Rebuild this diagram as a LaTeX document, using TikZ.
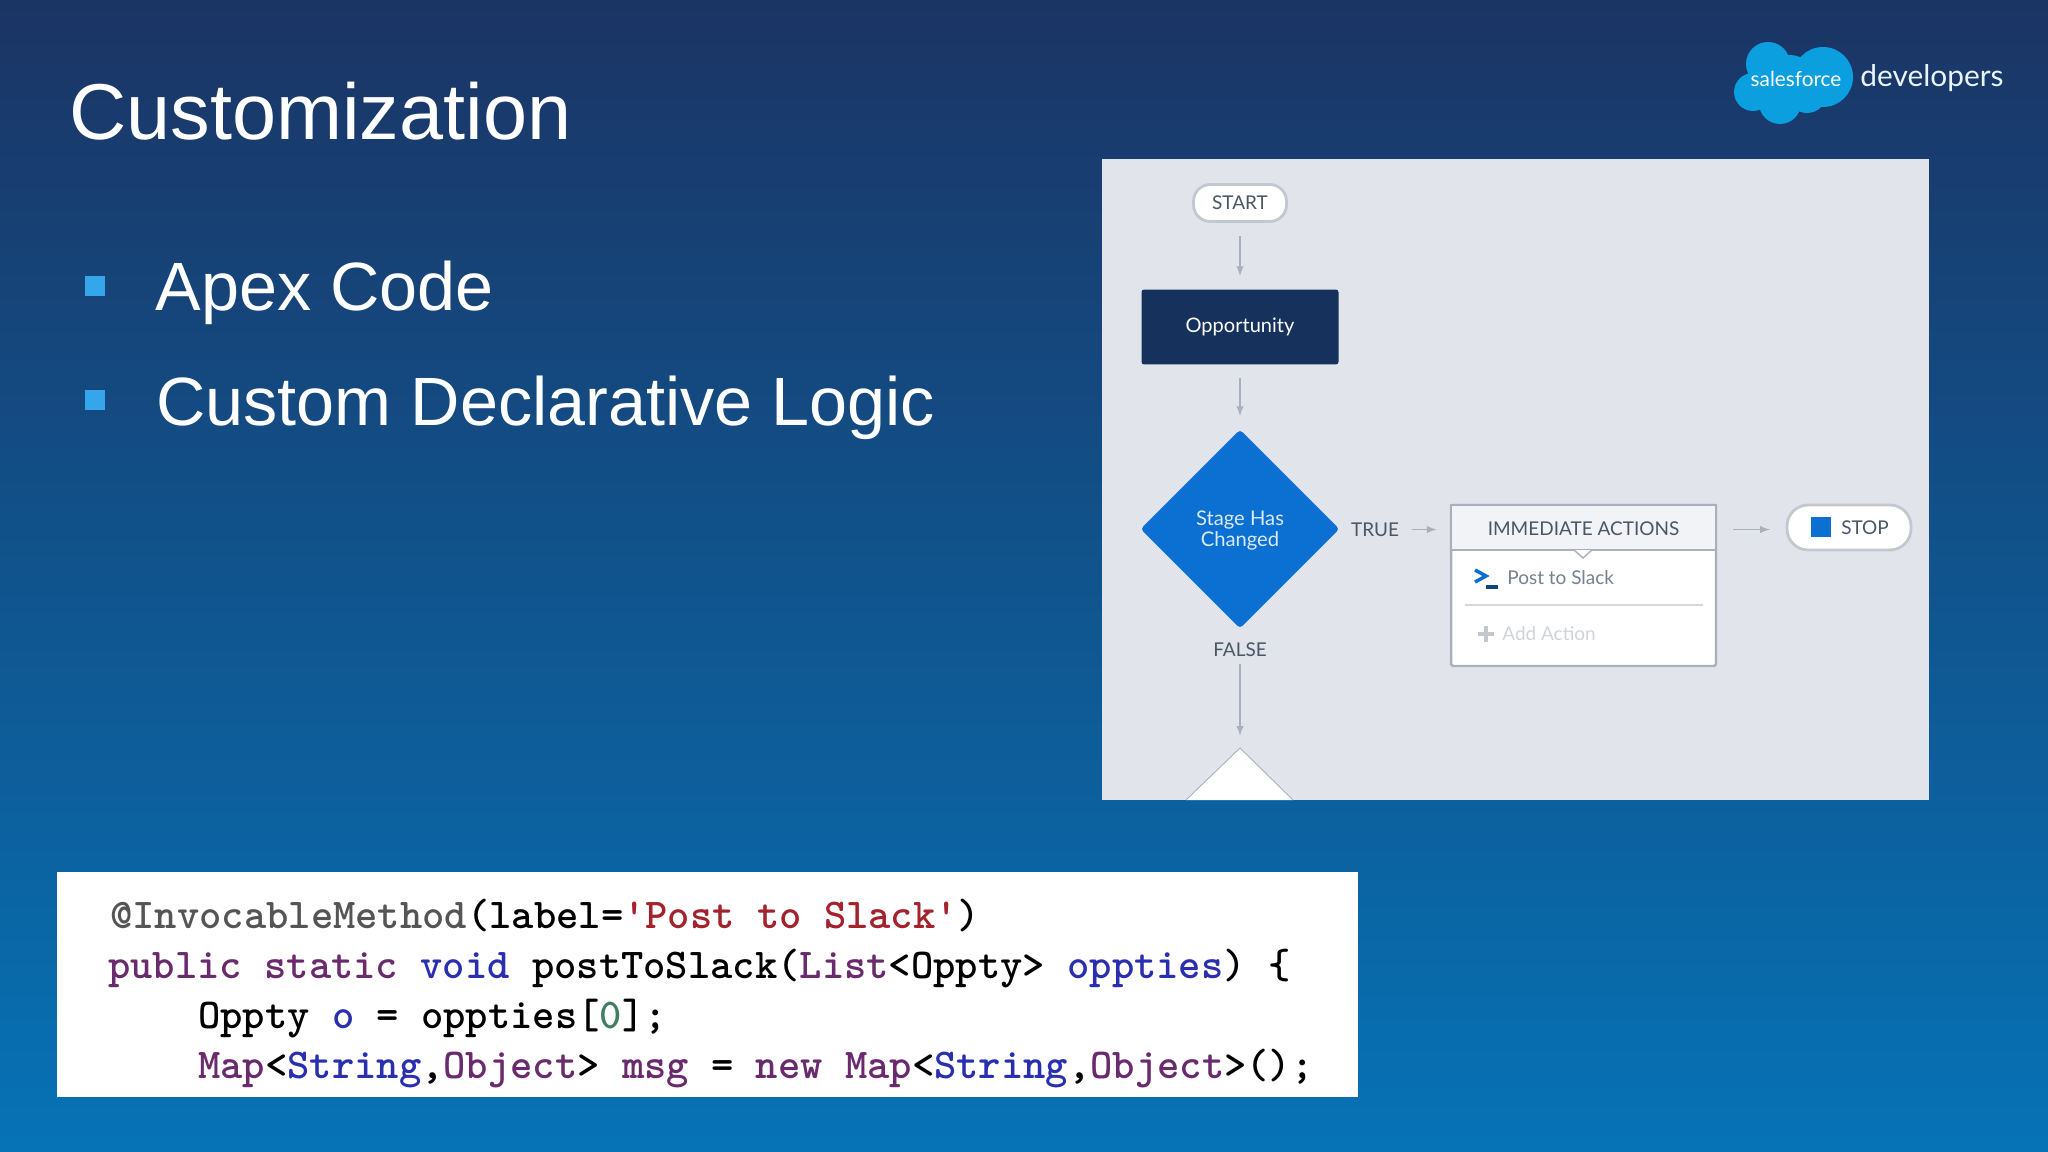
\documentclass[tikz,border=0pt]{standalone}
\usepackage{fontspec}
\setmainfont{Liberation Sans}
\newfontfamily\uifont{Lato}
\usepackage{tikz}
\usetikzlibrary{shapes.geometric}

\def\pxu{0.56906pt}
\definecolor{bgtop}{HTML}{1B3464}
\definecolor{bgmid}{HTML}{17507F}
\definecolor{bgbot}{HTML}{0673B6}
\definecolor{bullet}{HTML}{36A6EC}
\definecolor{panel}{HTML}{E1E5EB}
\definecolor{navy}{HTML}{16325C}
\definecolor{flowblue}{HTML}{0B70D2}
\definecolor{edge}{HTML}{A9B0BB}
\definecolor{uitext}{HTML}{4A5666}
\definecolor{cloud}{HTML}{0B9FE0}
\definecolor{codepurple}{HTML}{6A2A6E}
\definecolor{codeblue}{HTML}{2A2FB0}
\definecolor{codered}{HTML}{A3222C}
\definecolor{codegrey}{HTML}{555555}
\definecolor{codegreen}{HTML}{3F7F5F}
\newcommand{\kw}[1]{\textcolor{codepurple}{#1}}
\newcommand{\ty}[1]{\textcolor{codeblue}{#1}}

\tikzset{
  title/.style={anchor=base west,text=white,inner sep=0pt,font=\fontsize{45.1}{45}\selectfont},
  item/.style={anchor=base west,text=white,inner sep=0pt,font=\fontsize{38.9}{39}\selectfont},
  uilabel/.style={text=uitext,inner sep=0pt,font=\uifont\fontsize{10.8}{11}\selectfont},
  pill/.style={draw=edge!70!white,fill=white,line width=1.6pt,rounded corners=9.5pt},
  flowarrow/.style={draw=edge,line width=0.9pt,-latex,shorten <=7.5pt,shorten >=7.5pt},
  codeline/.style={anchor=base west,inner sep=0pt,font=\ttfamily\bfseries\fontsize{24.18}{25}\selectfont}
}

\begin{document}
\begin{tikzpicture}[x=0.02cm,y=-0.02cm]
\shade[top color=bgtop,middle color=bgmid,bottom color=bgbot,use as bounding box] (0,0) rectangle (2048,1152);

\node[title] (heading) at (69,139.5) {Customization};
\fill[bullet] (85,276) rectangle (105,296);
\node[item] (apex) at (155.5,310) {Apex Code};
\fill[bullet] (85,390) rectangle (105,410);
\node[item] (logic) at (156,425) {Custom Declarative Logic};

\fill[cloud] (1768,64) circle [radius=22] (1823,77) circle [radius=30] (1753,92) circle [radius=19] (1780,103) circle [radius=21] (1807,93) circle [radius=20] (1790,80) circle [radius=25];
\node[text=white,inner sep=0pt,font=\uifont\fontsize{11.8}{12}\selectfont] (salesforce) at (1796,79) {salesforce};
\node[anchor=west,text=white!90!cloud,inner sep=0pt,font=\uifont\fontsize{17}{17}\selectfont] (developers) at (1860,78.5) {developers};

\fill[panel] (1102,159) rectangle (1929,800);

\node[pill,uilabel,minimum width=93*\pxu,minimum height=37*\pxu] (start) at (1240,203) {START};
\node[fill=navy,text=white,rounded corners=1.5pt,inner sep=0pt,font=\uifont\fontsize{11.4}{12}\selectfont,minimum width=197*\pxu,minimum height=75*\pxu] (opportunity) at (1240,327) {Opportunity};
\node[diamond,fill=flowblue,inner sep=0pt,aspect=1,rounded corners=2pt,minimum width=199*\pxu,minimum height=199*\pxu] (stage) at (1240,529) {};
\node[text=white!85!flowblue,inner sep=0pt,align=center,font=\uifont\fontsize{11.5}{10}\selectfont] (stagelabel) at (1240,530.5) {Stage Has\\Changed};
\node[uilabel] (false) at (1240,650) {FALSE};
\node[uilabel] (true) at (1375,529.5) {TRUE};

% the next step is cut off by the panel
\coordinate (nextstep) at (1240,748);
\draw[edge,fill=white,line width=0.5pt] (1186,800) -- (nextstep) -- (1293,800);

\node[draw=edge,fill=white,line width=1.4pt,rounded corners=1pt,minimum width=265*\pxu,minimum height=161*\pxu] (actions) at (1583.5,585.5) {};
\node[draw=edge,fill=panel!45!white,line width=1.4pt,minimum width=265*\pxu,minimum height=45*\pxu] (header) at (1583.5,527.5) {};
\node[uilabel] (headerlabel) at (1583.5,529) {IMMEDIATE ACTIONS};
\draw[edge,fill=white,line width=0.8pt] (1574,550) -- (1583,558) -- (1592,550);

\draw[flowblue,line width=2pt] (1475,570) -- (1486,576) -- (1475,582);
\draw[navy!70!flowblue,line width=2pt] (1486,587) -- (1498,587);
\node[uilabel,anchor=west,text=uitext!75!white] (slack) at (1507,578) {Post to Slack};
\draw[edge!50!white,line width=0.8pt] (1465,605) -- (1703,605);
\draw[edge!70!white,line width=2.2pt] (1478,634) -- (1494,634) (1486,626) -- (1486,642);
\node[uilabel,anchor=west,text=edge!55!white] (addaction) at (1502,634) {Add Action};

\node[pill,minimum width=124*\pxu,minimum height=45*\pxu,rounded corners=12pt] (stop) at (1849,527.5) {};
\fill[flowblue] (1811,517) rectangle (1831,537);
\node[uilabel] (stoplabel) at (1865,528) {STOP};

\draw[flowarrow] (start) -- (opportunity);
\draw[flowarrow] (opportunity) -- (stage);
\draw[flowarrow,shorten >=7pt,shorten <=4pt] (false) -- (nextstep);
\draw[flowarrow,shorten <=7pt] (true) -- (true -| header.west);
\draw[flowarrow,shorten <=9pt,shorten >=9pt] (header.east |- true) -- (true -| stop.west);

\fill[white] (57,872) rectangle (1358,1097);
\node[codeline] (line1) at (110,928) {\textcolor{codegrey}{@InvocableMethod}(label=\textcolor{codered}{'Post to Slack'})};
\node[codeline] (line2) at (108,978) {\kw{public static} \ty{void} postToSlack(\kw{List}<Oppty> \ty{oppties}) \{};
\node[codeline] (line3) at (198,1028) {Oppty \ty{o} = oppties[\textcolor{codegreen}{0}];};
\node[codeline] (line4) at (198,1078) {\kw{Map}<\ty{String},\kw{Object}> \kw{msg} = \kw{new} \kw{Map}<\ty{String},\kw{Object}>();};
\end{tikzpicture}
\end{document}
